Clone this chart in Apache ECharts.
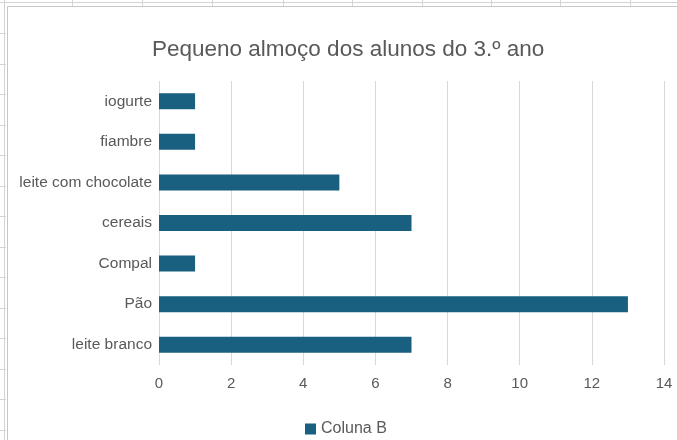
<!DOCTYPE html>
<html>
<head>
<meta charset="utf-8">
<script src="https://cdn.jsdelivr.net/npm/echarts@6/dist/echarts.min.js"></script>
<style>
html,body{margin:0;padding:0;background:#fff;}
#c{width:677px;height:440px;}
</style>
</head>
<body>
<div id="c"></div>
<script>
const categories = ['leite branco', 'Pão', 'Compal', 'cereais', 'leite com chocolate', 'fiambre', 'iogurte'];
const values = [7, 13, 1, 7, 5, 1, 1];
const seriesName = 'Coluna B';
const titleText = 'Pequeno almoço dos alunos do 3.º ano';

const FONT = 'Liberation Sans, Arial, sans-serif';
const chart = echarts.init(document.getElementById('c'), null, {renderer: 'canvas'});
const lineStyle = {stroke: '#d4d4d4', lineWidth: 1};
const deco = [];
// spreadsheet background lines
deco.push({type: 'line', shape: {x1: 0, y1: 2.5, x2: 677, y2: 2.5}, style: lineStyle, silent: true});
deco.push({type: 'line', shape: {x1: 4.5, y1: 0, x2: 4.5, y2: 440}, style: lineStyle, silent: true});
[72, 142, 212, 283, 352, 422, 491, 560, 630].forEach(x => deco.push({type: 'line', shape: {x1: x + 0.5, y1: 0, x2: x + 0.5, y2: 6}, style: lineStyle, silent: true}));
[33, 64, 94, 125, 155, 186, 216, 247, 277, 308, 338, 369, 399, 430].forEach(y => deco.push({type: 'line', shape: {x1: 0, y1: y + 0.5, x2: 6, y2: y + 0.5}, style: lineStyle, silent: true}));
// chart frame
deco.push({type: 'line', shape: {x1: 7.5, y1: 6.5, x2: 677, y2: 6.5}, style: {stroke: '#c8c8c8', lineWidth: 1}, silent: true});
deco.push({type: 'line', shape: {x1: 7.5, y1: 6.5, x2: 7.5, y2: 440}, style: {stroke: '#c8c8c8', lineWidth: 1}, silent: true});

chart.setOption({
  backgroundColor: '#ffffff',
  animation: false,
  textStyle: {fontFamily: FONT},
  title: {
    text: titleText,
    left: 147, top: 33,
    textStyle: {fontSize: 22.5, fontWeight: 'normal', color: '#595959', fontFamily: FONT}
  },
  legend: {
    data: [seriesName],
    top: 416, left: 300,
    itemWidth: 11, itemHeight: 11, itemGap: 6,
    icon: 'rect',
    textStyle: {fontSize: 16, color: '#595959', fontFamily: FONT}
  },
  grid: {left: 159, right: 13, top: 81, bottom: 75, containLabel: false},
  xAxis: {
    type: 'value', min: 0, max: 14, interval: 2,
    axisLine: {show: false}, axisTick: {show: false},
    splitLine: {show: true, lineStyle: {color: '#d9d9d9', width: 1}},
    axisLabel: {fontSize: 15, color: '#595959', margin: 11, fontFamily: FONT}
  },
  yAxis: {
    type: 'category', data: categories,
    axisLine: {show: false}, axisTick: {show: false},
    axisLabel: {fontSize: 15.5, color: '#595959', margin: 7, fontFamily: FONT}
  },
  series: [{
    name: seriesName, type: 'bar', data: values,
    barWidth: 16,
    itemStyle: {color: '#185f80'}
  }],
  graphic: deco
});
</script>
</body>
</html>
